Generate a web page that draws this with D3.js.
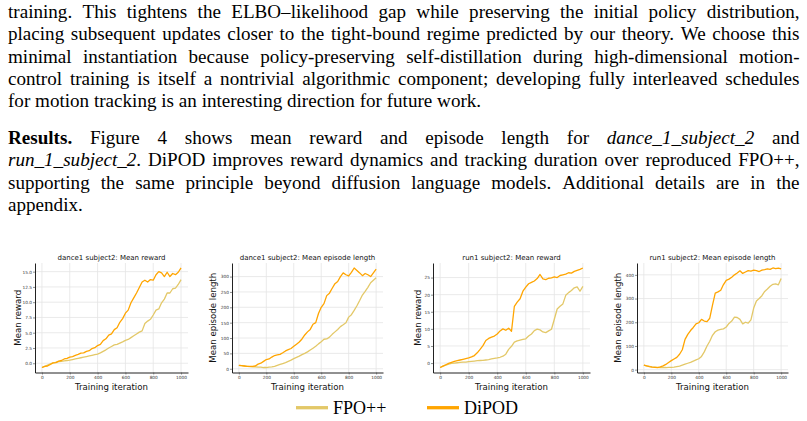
<!DOCTYPE html>
<html><head><meta charset="utf-8">
<script src="https://cdn.jsdelivr.net/npm/d3@7/dist/d3.min.js"></script>
<style>body{margin:0;background:#fff}svg{display:block}</style>
</head><body>
<svg id="c" width="807" height="421"></svg>
<script>
// ---------------- DATA ----------------
const iterations = [0,20,40,60,80,100,120,140,160,180,200,220,240,260,280,300,320,340,360,380,400,420,440,460,480,500,520,540,560,580,600,620,640,660,680,700,720,740,760,780,800,820,840,860,880,900,920,940,960,980,1000];
const xTicks = [0,200,400,600,800,1000];
const seriesNames = ["FPO++","DiPOD"];

const dance1RewardFPO = [-0.7,-0.5,-0.3,-0.1,0.05,0.15,0.25,0.3,0.4,0.45,0.5,0.6,0.7,0.8,0.9,1.0,1.1,1.2,1.3,1.4,1.5,1.7,1.95,2.2,2.5,2.75,3.0,3.1,3.3,3.5,3.75,3.9,4.2,4.5,4.8,5.1,5.3,6.5,6.9,7.2,7.9,8.7,8.9,9.9,10.5,11.5,11.5,12.2,12.3,12.9,13.7];
const dance1RewardDiPOD = [-0.7,-0.5,-0.45,-0.2,0.05,0.1,0.35,0.45,0.7,0.8,1.0,1.1,1.3,1.45,1.65,1.7,1.95,2.05,2.4,2.55,2.9,3.1,3.7,4.0,4.6,4.8,5.5,5.8,6.7,7.3,8.2,8.7,9.9,10.7,11.5,12.4,13.3,13.6,13.3,13.7,13.6,14.5,15.0,14.8,14.2,14.9,14.2,14.7,14.5,14.9,15.6];

const dance1LenFPO = [11,10,9,8,7,6,6,5,5,4,4,5,6,8,11,14,17,20,24,28,33,37,41,46,50,55,61,67,73,81,88,96,97,103,112,120,128,137,143,150,168,176,190,205,222,240,252,265,280,288,296];
const dance1LenDiPOD = [11,10,9,8,8,8,9,15,18,24,30,32,38,43,45,47,52,58,62,66,73,80,87,97,110,120,128,145,150,180,200,212,238,246,262,277,284,300,312,306,302,314,328,320,312,303,310,306,300,312,324];

const run1RewardFPO = [-1.3,-0.9,-0.6,-0.3,-0.1,0.0,0.1,0.2,0.25,0.3,0.4,0.5,0.6,0.7,0.75,0.8,0.9,1.0,1.2,1.35,1.5,1.7,2.0,2.6,4.0,4.9,6.1,6.5,6.7,6.9,7.1,7.9,8.5,9.5,9.9,9.7,9.1,8.9,9.4,9.9,12.8,15.8,16.6,17.3,19.8,20.6,21.2,22.0,22.3,21.0,22.4];
const run1RewardDiPOD = [-1.3,-0.9,-0.5,-0.1,0.2,0.5,0.7,0.9,1.1,1.3,1.5,1.8,2.2,3.0,4.0,5.1,6.6,7.2,7.6,7.9,8.5,9.4,10.0,9.6,10.2,9.3,16.6,17.8,18.8,21.0,22.2,23.2,23.6,24.0,24.7,25.9,24.6,24.4,24.8,24.9,25.2,25.0,25.6,25.8,26.0,26.4,26.3,26.8,27.1,27.4,27.8];

const run1LenFPO = [19,16,14,12,11,10,9,9,9,10,10,11,13,15,19,23,27,31,36,41,46,56,75,100,120,145,160,167,170,172,180,195,205,222,220,212,193,200,196,210,260,290,300,312,330,340,352,360,362,358,385];
const run1LenDiPOD = [19,16,13,11,10,9,12,16,22,30,38,45,52,65,84,128,149,165,178,193,198,212,205,203,217,272,323,328,335,359,377,382,390,400,408,417,406,412,418,416,420,418,414,420,422,425,423,429,426,428,425];

const titles = ["dance1 subject2: Mean reward","dance1 subject2: Mean episode length","run1 subject2: Mean reward","run1 subject2: Mean episode length"];
const yLabels = ["Mean reward","Mean episode length","Mean reward","Mean episode length"];
const yTicks1 = [0,2.5,5,7.5,10,12.5,15];
const yTicks2 = [0,50,100,150,200,250,300];
const yTicks3 = [0,5,10,15,20,25];
const yTicks4 = [0,100,200,300,400];

const para1 = [
  [["training. This tightens the ELBO–likelihood gap while preserving the initial policy distribution,","n"]],
  [["placing subsequent updates closer to the tight-bound regime predicted by our theory. We choose this","n"]],
  [["minimal instantiation because policy-preserving self-distillation during high-dimensional motion-","n"]],
  [["control training is itself a nontrivial algorithmic component; developing fully interleaved schedules","n"]],
  [["for motion tracking is an interesting direction for future work.","n"]]
];
const para2 = [
  [["Results.","b"],[" Figure 4 shows mean reward and episode length for ","n"],["dance_1_subject_2","i"],[" and","n"]],
  [["run_1_subject_2","i"],[". DiPOD improves reward dynamics and tracking duration over reproduced FPO++,","n"]],
  [["supporting the same principle beyond diffusion language models. Additional details are in the","n"]],
  [["appendix.","n"]]
];

// ---------------- STYLE ----------------
const SERIF = "'Liberation Serif','Times New Roman',Times,serif";
const SANS = "'DejaVu Sans',Verdana,sans-serif";
const FPO_COLOR = "#e3c868";
const DIPOD_COLOR = "#ffa500";
const FS = 19.1, LH = 22.3, X0 = 8, X1 = 799.5;
const PLOT_TOP = 263, PLOT_BOTTOM = 372.5;

const svg = d3.select("#c");
svg.append("rect").attr("width",807).attr("height",421).attr("fill","#fff");

// ---------------- TEXT ----------------
const measurer = svg.append("text").attr("x",-2000).attr("y",-2000).attr("font-family",SERIF).attr("font-size",FS);
function measure(str, st){
  measurer.attr("font-weight", st==="b"?"bold":"normal").attr("font-style", st==="i"?"italic":"normal").text(str);
  return measurer.node().getComputedTextLength();
}
function tokenize(segs){
  const words=[]; let cur=[];
  segs.forEach(([t,s])=>{
    t.split(" ").forEach((p,i)=>{
      if(i>0){ if(cur.length) words.push(cur); cur=[]; }
      if(p) cur.push([p,s]);
    });
  });
  if(cur.length) words.push(cur);
  return words;
}
const spaceW = measure("a a","n") - measure("aa","n");
function drawLine(segs, y, justify){
  const words = tokenize(segs);
  const widths = words.map(w=>d3.sum(w,p=>measure(p[0],p[1])));
  const total = d3.sum(widths);
  let gap = justify ? (X1-X0-total)/(words.length-1) : spaceW;
  let s = 1;
  const minGap = spaceW*0.8;
  if (justify && gap < minGap){ gap = minGap; s = (X1-X0-minGap*(words.length-1))/total; }
  let x = X0;
  const g = svg.append("g");
  words.forEach((w,i)=>{
    const t = g.append("text").attr("transform",`translate(${x},${y}) scale(${s},1)`)
      .attr("font-family",SERIF).attr("font-size",FS).attr("fill","#000");
    w.forEach(p=>{
      t.append("tspan").text(p[0]).attr("font-weight",p[1]==="b"?"bold":"normal").attr("font-style",p[1]==="i"?"italic":"normal");
    });
    x += widths[i]*s + gap;
  });
}
para1.forEach((l,i)=>drawLine(l, 18 + i*LH, i<para1.length-1));
para2.forEach((l,i)=>drawLine(l, 144 + i*LH, i<para2.length-1));
measurer.remove();

// ---------------- CHARTS ----------------
function drawChart(c){
  const g = svg.append("g");
  const x = d3.scaleLinear().domain([-50,1050]).range([c.left, c.left+c.width]);
  const [mn,mx] = d3.extent(c.fpo.concat(c.dipod));
  const pad = (mx-mn)*0.05;
  const y = d3.scaleLinear().domain([mn-pad, mx+pad]).range([PLOT_BOTTOM, PLOT_TOP]);
  g.selectAll(".vg").data(xTicks).join("line")
    .attr("x1",d=>x(d)).attr("x2",d=>x(d)).attr("y1",PLOT_TOP).attr("y2",PLOT_BOTTOM)
    .attr("stroke","#e4e4e4").attr("stroke-width",0.8);
  g.selectAll(".hg").data(c.yTicks).join("line")
    .attr("y1",d=>y(d)).attr("y2",d=>y(d)).attr("x1",c.left).attr("x2",c.left+c.width)
    .attr("stroke","#e4e4e4").attr("stroke-width",0.8);
  const line = d3.line().x((d,i)=>x(iterations[i])).y(d=>y(d));
  g.append("path").datum(c.fpo).attr("d",line).attr("fill","none").attr("stroke",FPO_COLOR).attr("stroke-width",1.3).attr("stroke-linejoin","round");
  g.append("path").datum(c.dipod).attr("d",line).attr("fill","none").attr("stroke",DIPOD_COLOR).attr("stroke-width",1.3).attr("stroke-linejoin","round");
  const ya = g.append("g").attr("transform",`translate(${c.left},0)`)
    .call(d3.axisLeft(y).tickValues(c.yTicks).tickFormat(c.fmt).tickSize(2).tickSizeOuter(0).tickPadding(1));
  const xa = g.append("g").attr("transform",`translate(0,${PLOT_BOTTOM})`)
    .call(d3.axisBottom(x).tickValues(xTicks).tickFormat(d3.format("d")).tickSize(2).tickSizeOuter(0).tickPadding(1.5));
  [ya,xa].forEach(a=>{
    a.select(".domain").attr("stroke","#222").attr("stroke-width",1);
    a.selectAll(".tick line").attr("stroke","#444").attr("stroke-width",0.6);
    a.selectAll(".tick text").attr("font-family",SANS).attr("font-size",4.3).attr("fill","#333");
  });
  g.append("text").attr("x",c.left+c.width/2).attr("y",PLOT_TOP-3.5).attr("text-anchor","middle")
    .attr("font-family",SANS).attr("font-size",7).attr("fill","#111").text(c.title);
  g.append("text").attr("x",c.left+c.width/2).attr("y",389.5).attr("text-anchor","middle")
    .attr("font-family",SANS).attr("font-size",8.6).attr("fill","#111").text("Training iteration");
  g.append("text").attr("transform",`translate(${c.left-c.ylOff},${(PLOT_TOP+PLOT_BOTTOM)/2}) rotate(-90)`)
    .attr("text-anchor","middle").attr("dy","0.35em")
    .attr("font-family",SANS).attr("font-size",8.6).attr("fill","#111").text(c.ylabel);
}
drawChart({left:35,width:153,fpo:dance1RewardFPO,dipod:dance1RewardDiPOD,yTicks:yTicks1,fmt:d3.format(".1f"),title:titles[0],ylabel:yLabels[0],ylOff:17});
drawChart({left:232,width:151,fpo:dance1LenFPO,dipod:dance1LenDiPOD,yTicks:yTicks2,fmt:d3.format("d"),title:titles[1],ylabel:yLabels[1],ylOff:19});
drawChart({left:433,width:157,fpo:run1RewardFPO,dipod:run1RewardDiPOD,yTicks:yTicks3,fmt:d3.format("d"),title:titles[2],ylabel:yLabels[2],ylOff:15});
drawChart({left:637,width:151,fpo:run1LenFPO,dipod:run1LenDiPOD,yTicks:yTicks4,fmt:d3.format("d"),title:titles[3],ylabel:yLabels[3],ylOff:19});

// ---------------- LEGEND ----------------
const legend = [{name:seriesNames[0],color:FPO_COLOR,x:296},{name:seriesNames[1],color:DIPOD_COLOR,x:427}];
const lg = svg.append("g");
legend.forEach(d=>{
  lg.append("line").attr("x1",d.x).attr("x2",d.x+32).attr("y1",407.7).attr("y2",407.7).attr("stroke",d.color).attr("stroke-width",3.3);
  lg.append("text").attr("x",d.x+37).attr("y",414).attr("font-family",SERIF).attr("font-size",18).attr("fill","#000").text(d.name);
});
</script>
</body></html>
